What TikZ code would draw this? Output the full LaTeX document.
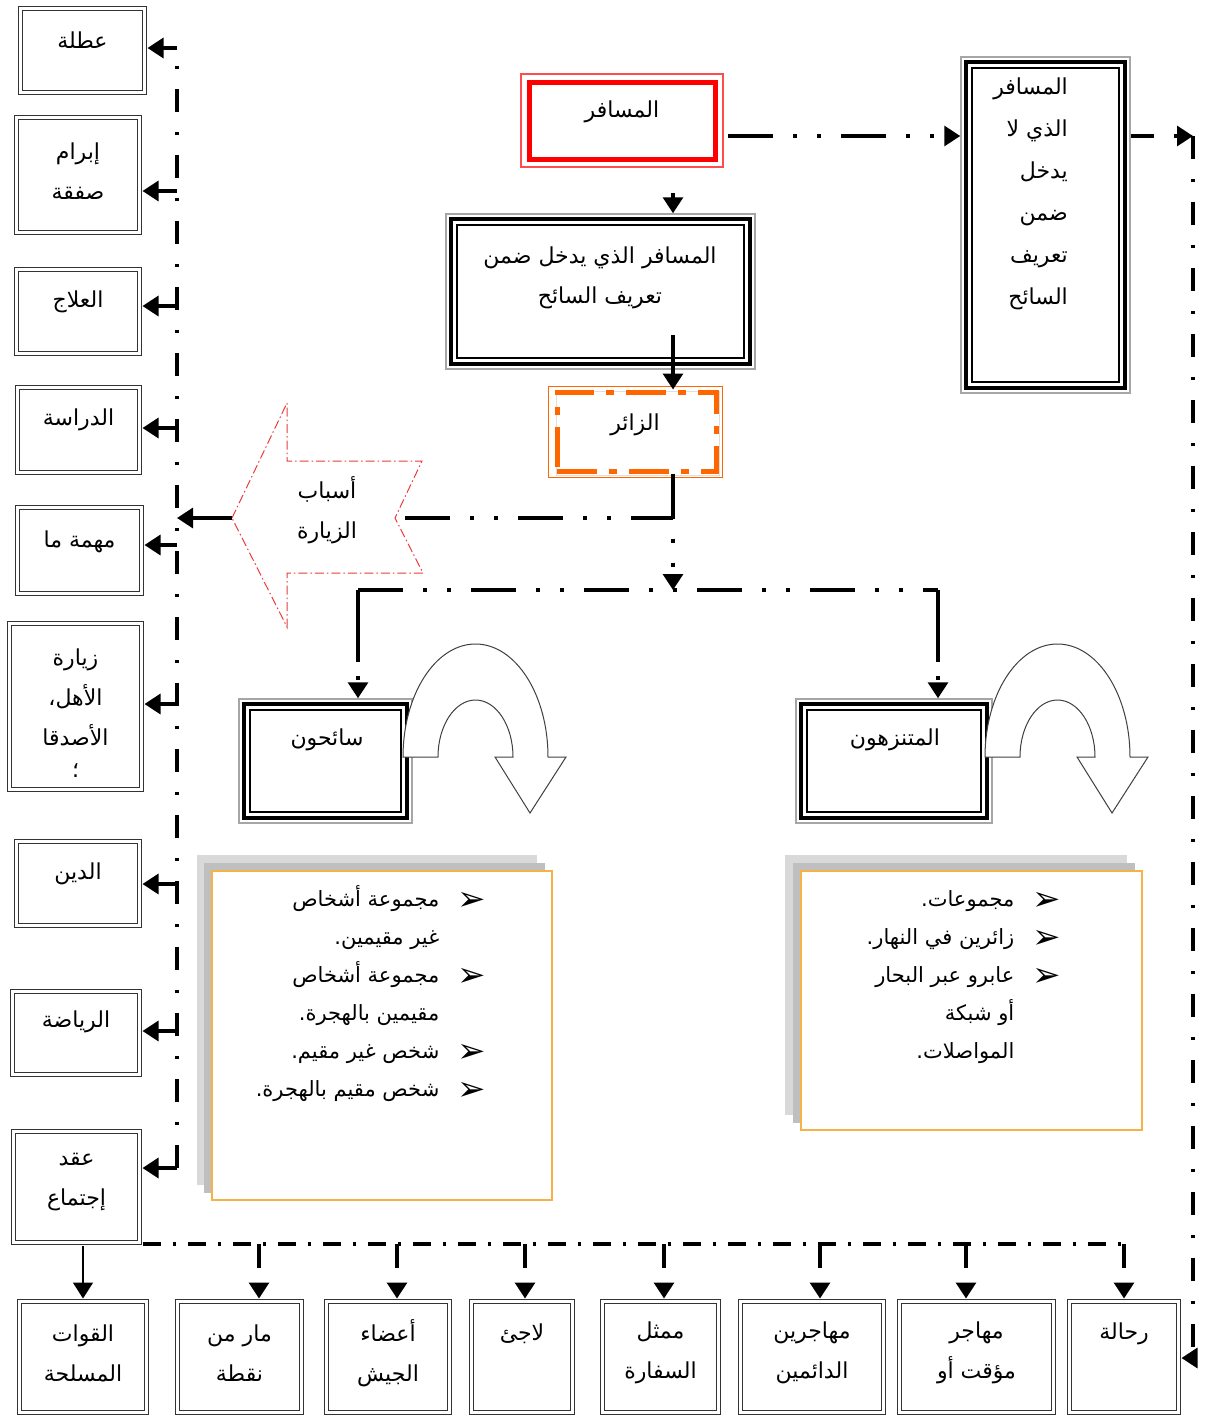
\documentclass[tikz,border=0pt]{standalone}
\usepackage{fontspec}
\newfontfamily\arabicfont[Script=Arabic]{DejaVu Sans}
\newfontfamily\dejavu{DejaVu Sans}
\TeXXeTstate=1
\usetikzlibrary{arrows.meta,fit}
\newcommand\ar[1]{\beginR #1\endR}
\newcommand\bul{\raisebox{-4pt}{\dejavu\fontsize{34}{38}\selectfont ➢}}
\definecolor{redb}{RGB}{255,0,0}
\definecolor{orangeb}{RGB}{255,102,0}
\definecolor{listor}{RGB}{245,178,70}
\definecolor{arrred}{RGB}{235,60,60}
\tikzset{
  lbl/.style={font=\arabicfont\fontsize{22}{40}\selectfont, align=center, inner sep=0},
  listtxt/.style={font=\arabicfont\fontsize{21}{38}\selectfont, inner sep=0},
  dbl/.style={draw=black!80, double=white, double distance=2.5pt, line width=1.4pt, inner sep=0, outer sep=3pt, fill=white},
  con/.style={line width=3.2pt},
  arr/.style={-{Triangle[width=20pt,length=16pt]}},
  dd/.style={con, dash pattern=on 23pt off 20pt on 3pt off 20pt},
  ddd/.style={con, dash pattern=on 45pt off 20pt on 4pt off 20pt on 4pt off 20pt},
  dbot/.style={con, dash pattern=on 18pt off 12pt on 3pt off 12pt},
  shadowA/.style={fill=gray!30, draw=none},
  shadowB/.style={fill=gray!50, draw=none},
  listbox/.style={draw=listor, line width=1.5pt, fill=white, inner sep=0},
}
% double-bordered box with its text
\newcommand\dbox[7]{%
  \node[dbl, fit={(#2+3.5,-#3-3.5) (#4-3.5,-#5+3.5)}] (#1) {};
  \node[lbl] (#1t) at ({(#2+#4)/2},-#6) {#7};
}
% triple-bordered box
\newcommand\tbox[5]{%
  \node[draw=gray!70, line width=1.5pt, fill=white, inner sep=0, fit={(#2+1,-#3-1) (#4-1,-#5+1)}] (#1) {};
  \draw[black, line width=4pt] (#2+6,-#3-6) rectangle (#4-6,-#5+6);
  \draw[black, line width=1.4pt] (#2+12,-#3-12) rectangle (#4-12,-#5+12);
}
% U-turn block arrow
\newcommand\uarrow[2]{%
  \draw[black!75, line width=1pt, fill=white] (#1,-#2)
    arc[start angle=180, end angle=0, x radius=72.5, y radius=113]
    -- ++(18,0) -- (#1+127,-#2-56) -- (#1+92,-#2) -- (#1+110,-#2)
    arc[start angle=0, end angle=180, x radius=37.5, y radius=57] -- cycle;
}
\begin{document}
\begin{tikzpicture}[x=1pt,y=1pt]
\fill[white] (0,0) rectangle (1206,-1419);
\useasboundingbox (0,0) rectangle (1206,-1419);

% ---------- left column ----------
\dbox{b1}{17}{5}{148}{96}{40}{\ar{عطلة}}
\dbox{b2}{13}{114}{143}{236}{171}{\ar{إبرام}\\\ar{صفقة}}
\dbox{b3}{13}{266}{143}{357}{302}{\ar{العلاج}}
\dbox{b4}{14}{384}{143}{476}{420}{\ar{الدراسة}}
\dbox{b5}{14}{504}{145}{597}{542}{\ar{مهمة ما}}
\dbox{b6}{6}{620}{145}{793}{713}{\ar{زيارة}\\\ar{الأهل،}\\\ar{الأصدقا}\\[-8pt]\ar{؛}}
\dbox{b7}{13}{838}{143}{929}{874}{\ar{الدين}}
\dbox{b8}{9}{988}{143}{1078}{1022}{\ar{الرياضة}}
\dbox{b9}{10}{1128}{143}{1246}{1182}{\ar{عقد}\\\ar{إجتماع}}

% ---------- bottom row ----------
\dbox{c1}{16}{1298}{150}{1416}{1353}{\ar{القوات}\\\ar{المسلحة}}
\dbox{c2}{174}{1298}{305}{1416}{1353}{\ar{مار من}\\\ar{نقطة}}
\dbox{c3}{323}{1298}{453}{1416}{1353}{\ar{أعضاء}\\\ar{الجيش}}
\dbox{c4}{468}{1298}{576}{1416}{1334}{\ar{لاجئ}}
\dbox{c5}{599}{1298}{722}{1416}{1353}{\ar{ممثل}\\\ar{السفارة}}
\dbox{c6}{737}{1298}{887}{1416}{1353}{\ar{مهاجرين}\\\ar{الدائمين}}
\dbox{c7}{896}{1298}{1057}{1416}{1353}{\ar{مهاجر}\\\ar{مؤقت أو}}
\dbox{c8}{1066}{1298}{1182}{1416}{1334}{\ar{رحالة}}

% ---------- traveller (red) ----------
\draw[redb!70, line width=1.2pt] (521,-74) rectangle (723,-167);
\node[draw=redb, line width=5pt, fill=white, inner sep=0, fit={(529,-82) (715,-159)}] (trav) {};
\node[lbl] (travt) at (622,-112) {\ar{المسافر}};

% ---------- middle box ----------
\tbox{mid}{445}{213}{756}{370}
\node[lbl] (midt) at (600,-278) {\ar{المسافر الذي يدخل ضمن}\\\ar{تعريف السائح}};

% ---------- right tall box ----------
\tbox{R}{960}{56}{1131}{394}
\node[lbl, align=right, anchor=north east, font=\arabicfont\fontsize{22}{42}\selectfont] (Rt) at (1068,-78)
  {\ar{المسافر}\\\ar{الذي لا}\\\ar{يدخل}\\\ar{ضمن}\\\ar{تعريف}\\\ar{السائح}};

% ---------- visitor ----------
\draw[orangeb, line width=1pt] (548,-386) rectangle (722,-477);
\draw[gray!25, line width=1pt] (556,-391) rectangle (719,-475);
\node[draw=orangeb, line width=5pt, dash pattern=on 40pt off 12pt on 8pt off 12pt, inner sep=0, fit={(557,-392) (716,-471)}] (vis) {};
\node[lbl] (vist) at (635,-425) {\ar{الزائر}};

% ---------- reasons arrow shape ----------
\draw[arrred, line width=1pt, dash pattern=on 9pt off 3pt on 1.5pt off 3pt, fill=white]
  (232,-518) -- (287,-403) -- (287,-461) -- (422,-461) -- (395,-518) -- (423,-573) -- (287,-573) -- (287,-627) -- cycle;
\node[lbl] (asbt) at (327,-510) {\ar{أسباب}\\\ar{الزيارة}};

% ---------- tourists / excursionists ----------
\tbox{s}{238}{698}{413}{824}
\node[lbl] (st) at (327,-740) {\ar{سائحون}};
\tbox{m}{795}{698}{993}{824}
\node[lbl] (mt) at (895,-740) {\ar{المتنزهون}};
\uarrow{403}{757}
\uarrow{985}{757}

% ---------- lists ----------
\fill[shadowA] (197,-855) rectangle (537,-1185);
\fill[shadowB] (204,-863) rectangle (545,-1193);
\node[listbox, fit={(212,-871) (552,-1200)}] (L1) {};
\node[listtxt, anchor=north east] (L1t) at (486,-880) {%
  \begin{tabular}{@{}r@{\hspace{18pt}}c@{}}
  \ar{مجموعة أشخاص} & \bul\\
  \ar{غير مقيمين.} & \\
  \ar{مجموعة أشخاص} & \bul\\
  \ar{مقيمين بالهجرة.} & \\
  \ar{شخص غير مقيم.} & \bul\\
  \ar{شخص مقيم بالهجرة.} & \bul
  \end{tabular}};

\fill[shadowA] (785,-855) rectangle (1127,-1115);
\fill[shadowB] (793,-863) rectangle (1135,-1123);
\node[listbox, fit={(801,-871) (1142,-1130)}] (L2) {};
\node[listtxt, anchor=north east] (L2t) at (1061,-880) {%
  \begin{tabular}{@{}r@{\hspace{18pt}}c@{}}
  \ar{مجموعات.} & \bul\\
  \ar{زائرين في النهار.} & \bul\\
  \ar{عابرو عبر البحار} & \bul\\
  \ar{أو شبكة} & \\
  \ar{المواصلات.} &
  \end{tabular}};

% ---------- connectors ----------
\coordinate (a1) at (673,-193);
\draw[con, arr] (a1) -- (a1 |- mid.north);
\coordinate (a2) at (673,-335);
\draw[con, arr] (a2) -- (a2 |- vis.north);
\coordinate (a3) at (728,-136);
\draw[ddd, arr] (a3) -- (a3 -| R.west);
\coordinate (rc) at (1193,-136);
\draw[dd, arr] (a3 -| R.east) -- (rc);
\coordinate (rb) at (1193,-1358);
\draw[dd, arr] (rc) -- (rb) -- (rb -| c8.east);

\coordinate (j1) at (673,-518);
\coordinate (j2) at (673,-590);
\draw[ddd, arr] (j2 |- vis.south) -- (j2);
\coordinate (notch) at (395,-518);
\draw[ddd, shorten <=10pt] (notch) -- (j1);

\coordinate (sx) at (358,-590);
\coordinate (mx) at (938,-590);
\draw[ddd] (sx) -- (mx);
\draw[con, arr, dash pattern=on 72pt off 14pt on 4pt off 40pt] (sx) -- (sx |- s.north);
\draw[con, arr, dash pattern=on 72pt off 14pt on 4pt off 40pt] (mx) -- (mx |- m.north);

% left vertical
\coordinate (vt) at (177,-48);
\coordinate (vb) at (177,-1168);
\draw[dd] (vb) -- (vt);
\draw[con, arr] (vt) -- (vt -| b1.east);
\foreach \n/\y in {2/191,3/306,4/428,5/545,6/704,7/884,8/1031,9/1168}{
  \coordinate (v\n) at (177,-\y);
  \draw[con, arr] (v\n) -- (v\n -| b\n.east);
}
\coordinate (tip) at (232,-518);
\draw[con, arr] (tip) -- (tip -| vt);

% bottom line
\coordinate (bl) at (143,-1244);
\coordinate (br) at (1124,-1244);
\draw[dbot] (bl) -- (br);
\foreach \n/\x in {2/259,3/397,4/525,5/664,6/820,7/966,8/1124}{
  \coordinate (h\n) at (\x,-1244);
  \draw[con, arr, dash pattern=on 24pt off 40pt] (h\n) -- (h\n |- c\n.north);
}
\coordinate (q) at (83,-1246);
\draw[line width=1.6pt, arr] (q) -- (q |- c1.north);
\end{tikzpicture}
\end{document}
